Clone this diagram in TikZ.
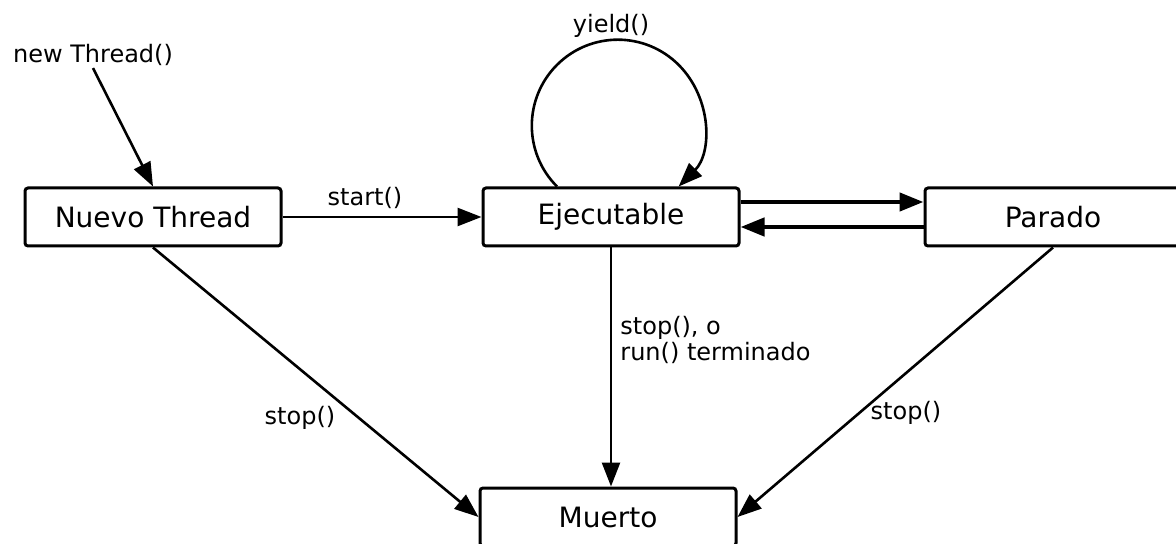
\documentclass[tikz,border=0pt]{standalone}
\usepackage{fontspec}
\setmainfont{DejaVu Sans}
\usetikzlibrary{arrows.meta}

\tikzset{
    estado/.style={draw, line width=1.5pt, rounded corners=1.5pt, minimum width=128pt, minimum height=29pt, inner sep=0pt, font=\fontsize{14}{16}\selectfont},
    etiqueta/.style={inner sep=1pt, font=\fontsize{12}{13}\selectfont},
    flecha/.style={line width=1.3pt, -{Triangle[length=12pt,width=9pt]}},
    gruesa/.style={line width=2.2pt, -{Triangle[length=12pt,width=9pt]}}
}

\begin{document}
\begin{tikzpicture}[x=0.5pt,y=-0.5pt]
    \useasboundingbox (0,0) rectangle (1176,544);
    \clip (0,0) rectangle (1176,544);

    % estados
    \node[estado] (nuevo) at (153,217) {Nuevo Thread};
    \node[estado] (ejec) at (611,217) {Ejecutable};
    \node[estado] (parado) at (1053,217) {Parado};
    \node[estado] (muerto) at (608,517) {Muerto};

    % etiquetas
    \node[etiqueta] (nuevolbl) at (93,55) {new Thread()};
    \node[etiqueta] (startlbl) at (365,198) {start()};
    \node[etiqueta] (yieldlbl) at (611,26) {yield()};
    \node[etiqueta, anchor=west, align=left] (stoplbl) at (618,340) {stop(), o\\run() terminado};
    \node[etiqueta] (stopizq) at (300,418) {stop()};
    \node[etiqueta] (stopder) at (906,413) {stop()};

    \draw[flecha] (nuevolbl.south) -- (nuevo.north);
    \draw[flecha] (nuevo.east) -- (ejec.west);
    \draw[flecha] ([xshift=-27pt]ejec.north) arc[start angle=225, end angle=-45, radius=43pt];
    \draw[gruesa] ([yshift=7.5pt]ejec.east) -- ([yshift=7.5pt]parado.west);
    \draw[gruesa] ([yshift=-5pt]parado.west) -- ([yshift=-5pt]ejec.east);
    \draw[flecha] (ejec.south) -- (ejec.south |- muerto.north);
    \draw[flecha] (nuevo.south) -- (muerto.west);
    \draw[flecha] (parado.south) -- (muerto.east);

\end{tikzpicture}
\end{document}
